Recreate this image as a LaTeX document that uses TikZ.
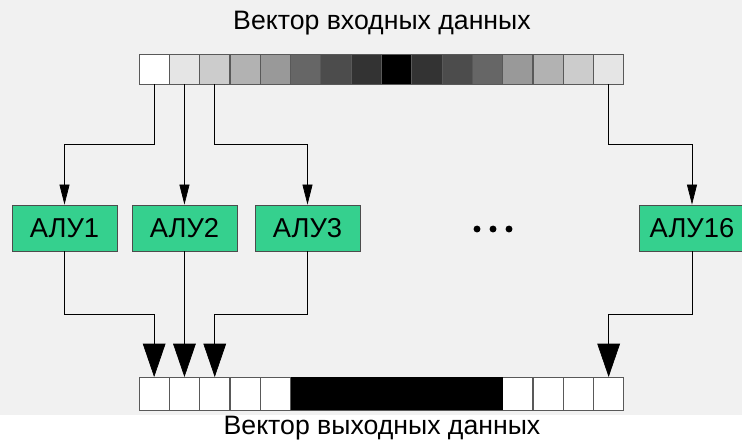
\documentclass[tikz,border=0pt]{standalone}
\usepackage{fontspec}
\setmainfont{Liberation Sans}
\usetikzlibrary{arrows.meta,calc}
\definecolor{alugreen}{HTML}{35D08E}
\definecolor{bggray}{HTML}{F1F1F1}
\begin{document}
\begin{tikzpicture}[x=0.75pt,y=-0.75pt,font=\fontsize{20}{22}\selectfont]
\tikzset{cell/.style={draw=black!65,line width=0.6pt,minimum width=22.7pt,minimum height=22.5pt,inner sep=0pt,outer sep=0pt},
  alu/.style={draw=black!70,line width=0.6pt,fill=alugreen,minimum width=78.75pt,minimum height=34.5pt,inner sep=0pt,font=\fontsize{20.5}{22}\selectfont},
  link/.style={black,line width=0.5pt},
  tipin/.style={-{Triangle[length=15pt,width=7.5pt]}},
  tipout/.style={-{Triangle[length=25pt,width=17pt]}}}
\useasboundingbox[fill=bggray] (0,0) rectangle (742,444);
\fill[white] (0,415) rectangle (742,444);
% input and output vectors
\foreach \g [count=\i] in {0,10,20,30,40,60,70,80,100,80,70,60,40,30,20,10}{\node[cell,fill=black!\g] (in\i) at ({139+30.3*(\i-0.5)},69) {};}
\foreach \i in {1,...,16}{\node[cell,fill=white,minimum height=24.75pt] (out\i) at ({139+30.3*(\i-0.5)},393.5) {};}
\fill[black] (out6.north west) rectangle (out12.south east);
\node (intitle) at (382,23) {Вектор входных данных};
\node (outtitle) at (382,428) {Вектор выходных данных};
% ALUs
\node[alu] (alu1) at (64.5,228) {АЛУ1};
\node[alu] (alu2) at (184.45,228) {АЛУ2};
\node[alu] (alu3) at (307.5,228) {АЛУ3};
\node[alu] (alu16) at (692,228) {АЛУ16};
\foreach \x in {477,493,509}{\fill (\x,229) circle (2.6pt);}
\foreach \a in {1,2,3,16}{\draw[link,tipin] (in\a.south) -- ++(0,60) -| (alu\a.north);
  \draw[link,tipout] (alu\a.south) -- ++(0,63) -| (out\a.north);}
\end{tikzpicture}
\end{document}
